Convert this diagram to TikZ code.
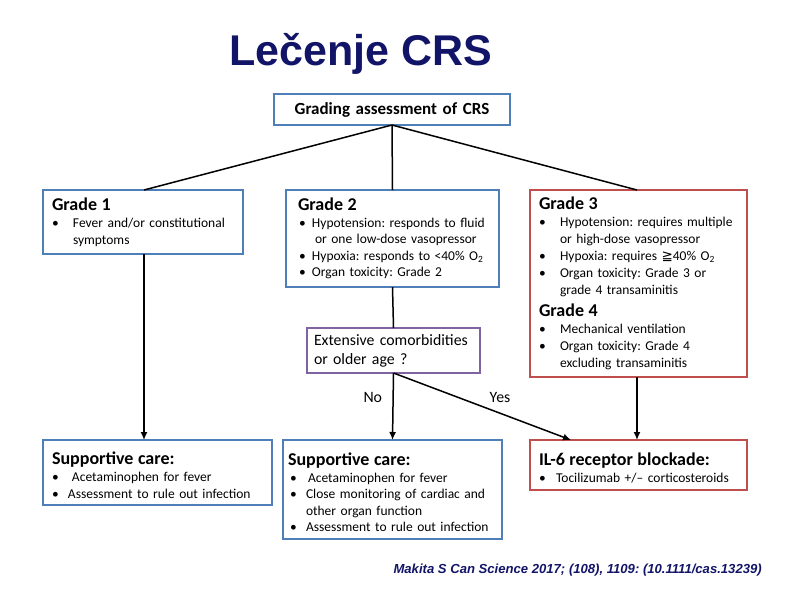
\documentclass[tikz,border=0pt]{standalone}
\usepackage{fontspec}
\setmainfont{Carlito}
\newfontfamily\arialfont{Liberation Sans}
\newfontfamily\symfont{DejaVu Sans}
\usetikzlibrary{arrows.meta}
\frenchspacing

\definecolor{boxblue}{HTML}{4F7FB8}
\definecolor{boxred}{HTML}{BE4F4C}
\definecolor{boxpurple}{HTML}{8064A2}
\definecolor{titlenavy}{RGB}{18,20,104}

\newcommand{\bul}[3][0pt]{\hspace*{#1}\makebox[#2][l]{\textbullet}#3}
\newcommand{\hdr}[1]{{\fontsize{18}{17}\selectfont\bfseries #1}}
\newcommand{\hdrlow}[1]{\rule{0pt}{19pt}\hdr{#1}}

\tikzset{
  crsbox/.style={draw=#1, line width=1.6pt, anchor=north west, outer sep=0pt,
    inner xsep=9pt, inner ysep=3pt, align=left, font=\fontsize{13.5}{17}\selectfont},
  conn/.style={line width=1.5pt},
  arr/.style={conn, -{Latex[length=8pt,width=7pt]}},
}

\begin{document}
\begin{tikzpicture}[x=1pt,y=-1pt]
  \useasboundingbox (0,0) rectangle (794,595);

  \node[font=\arialfont\bfseries\fontsize{43}{43}\selectfont, text=titlenavy, anchor=base west] (title) at (226,65) {Lečenje CRS};

  \node[crsbox=boxblue, text width=218pt, minimum height=31pt, align=center,
        font=\fontsize{17}{17}\selectfont\bfseries] (grad) at (274,94) {Grading assessment of CRS};

  \node[crsbox=boxblue, text width=182pt, minimum height=64pt] (g1) at (43,190)
    {\hdr{Grade 1}\\
     \bul{21pt}{Fever and/or constitutional}\\
     \hspace*{21pt}symptoms};

  \node[crsbox=boxblue, inner xsep=12pt, text width=189pt, minimum height=97pt,
        font=\fontsize{13.5}{16.5}\selectfont] (g2) at (286,190)
    {\hdr{Grade 2}\\
     \bul[1pt]{13pt}{Hypotension: responds to fluid}\\
     \hspace*{17pt}or one low-dose vasopressor\\
     \bul[1pt]{13pt}{Hypoxia: responds to <40\% O\textsubscript{2}}\\
     \bul[1pt]{13pt}{Organ toxicity: Grade 2}};

  \node[crsbox=boxred, text width=199pt, minimum height=187pt] (g34) at (530,190)
    {\hdr{Grade 3}\\
     \bul{21pt}{Hypotension: requires multiple}\\
     \hspace*{21pt}or high-dose vasopressor\\
     \bul{21pt}{Hypoxia: requires {\symfont ≧}40\% O\textsubscript{2}}\\
     \bul{21pt}{Organ toxicity: Grade 3 or}\\
     \hspace*{21pt}grade 4 transaminitis\\[5pt]
     \hdr{Grade 4}\\
     \bul{21pt}{Mechanical ventilation}\\
     \bul{21pt}{Organ toxicity: Grade 4}\\
     \hspace*{21pt}excluding transaminitis};

  \node[crsbox=boxpurple, inner xsep=7pt, text width=159pt, minimum height=45pt,
        font=\fontsize{15.8}{19}\selectfont] (ask) at (307,328)
    {Extensive comorbidities\\ or older age ?};

  \node[crsbox=boxblue, text width=211pt, minimum height=65pt] (sc1) at (43,440)
    {\hdrlow{Supportive care:}\\
     \bul{20pt}{Acetaminophen for fever}\\
     \bul{16pt}{Assessment to rule out infection}};

  \node[crsbox=boxblue, inner xsep=5pt, text width=209pt, minimum height=99pt,
        font=\fontsize{13.5}{16.5}\selectfont] (sc2) at (283,440)
    {\hdrlow{Supportive care:}\\
     \bul[2pt]{18pt}{Acetaminophen for fever}\\
     \bul[2pt]{16pt}{Close monitoring of cardiac and}\\
     \hspace*{18pt}other organ function\\
     \bul[2pt]{16pt}{Assessment to rule out infection}};

  \node[crsbox=boxred, text width=199pt, minimum height=50pt] (il6) at (530,440)
    {\hdrlow{IL-6 receptor blockade:}\\
     \bul{17pt}{Tocilizumab +/– corticosteroids}};

  \draw[conn] (grad.south) -- ([xshift=101pt]g1.north west);
  \draw[conn] (grad.south) -- (g2.north);
  \draw[conn] (grad.south) -- ([xshift=107pt]g34.north west);
  \draw[conn] (g2.south) -- (ask.north);
  \draw[arr] ([xshift=101pt]g1.south west) -- ([xshift=101pt]sc1.north west);
  \draw[arr] (ask.south) -- node[pos=0.36, left=7pt, font=\fontsize{15.8}{19}\selectfont] (no) {No} (sc2.north);
  \draw[arr] (ask.south) -- node[pos=0.6, above=7pt, font=\fontsize{15.8}{19}\selectfont] (yes) {Yes} ([xshift=41pt]il6.north west);
  \draw[arr] ([xshift=107pt]g34.south west) -- ([xshift=107pt]il6.north west);

  \node[font=\arialfont\bfseries\itshape\fontsize{13.1}{14}\selectfont, text=titlenavy, anchor=base west] (cite) at (390,573)
    {Makita S Can Science 2017; (108), 1109: (10.1111/cas.13239)};
\end{tikzpicture}
\end{document}
